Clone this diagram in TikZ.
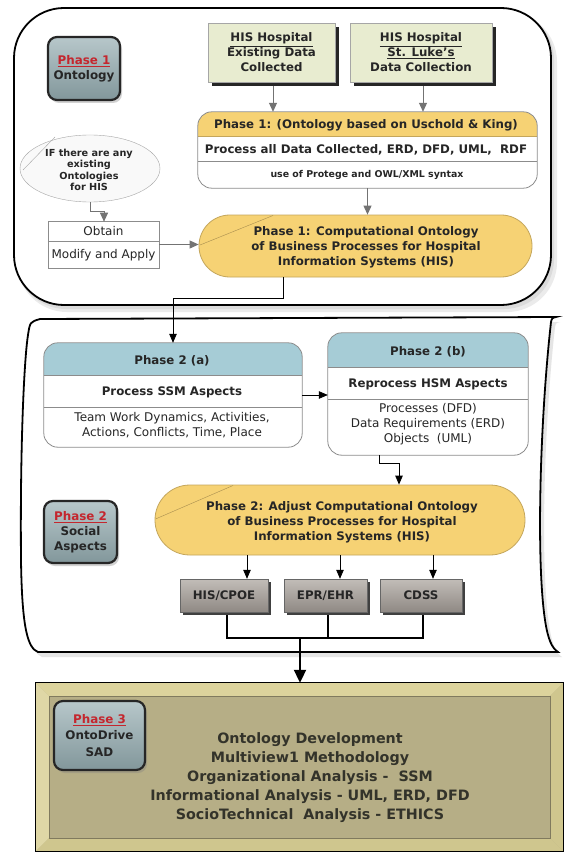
\documentclass[tikz,border=0pt]{standalone}
\usepackage{fontspec}
\setmainfont{DejaVu Sans}
\usetikzlibrary{arrows.meta,shadows,shapes.geometric}
\definecolor{yel}{HTML}{F6D274}
\definecolor{yelb}{HTML}{C4A65C}
\definecolor{tealh}{HTML}{A6CCD6}
\definecolor{his}{HTML}{E8ECD0}
\definecolor{boxb}{HTML}{8C8C8C}
\definecolor{txt}{HTML}{262626}
\definecolor{redp}{HTML}{C4262E}
\definecolor{badged}{HTML}{82979B}
\definecolor{badgel}{HTML}{B7C7CA}
\definecolor{olive}{HTML}{B6AE86}
\definecolor{olivel}{HTML}{DCD39C}
\definecolor{olivem}{HTML}{CFC68E}
\definecolor{garr}{HTML}{737373}
\definecolor{sboxl}{HTML}{C2BDB8}
\definecolor{sboxd}{HTML}{8F8984}
\definecolor{ptxt}{HTML}{33332A}
\tikzset{
  bt/.style={font=\fontsize{11.8}{14.8}\selectfont\bfseries, text=txt, align=center, inner sep=0pt},
  rt/.style={font=\fontsize{12}{15}\selectfont, text=txt, align=center, inner sep=0pt},
  garrow/.style={draw=garr, line width=0.9pt, -{Triangle[length=9pt,width=8pt]}},
  barrow/.style={draw=black, line width=0.8pt, -{Triangle[length=9pt,width=7.5pt]}},
  bigarrow/.style={draw=black, line width=2pt, -{Triangle[length=13pt,width=12pt]}},
  badgebox/.style={rectangle, rounded corners=9pt, draw=black!85, line width=2.2pt,
    top color=badgel, bottom color=badged,
    drop shadow={opacity=0.35, shadow xshift=2pt, shadow yshift=-3pt},
    align=center, inner sep=0pt, font=\fontsize{11.9}{15}\selectfont\bfseries, text=txt},
  hisbox/.style={rectangle, draw=gray!70, fill=his,
    drop shadow={fill=black!85, opacity=1, shadow xshift=4pt, shadow yshift=-4pt},
    align=center, inner sep=0pt, font=\fontsize{11.8}{15}\selectfont\bfseries, text=txt},
  tbox/.style={rectangle, fill=white, inner sep=0pt},
  stadium/.style={rectangle, draw=yelb, fill=yel, line width=0.8pt, inner sep=0pt},
  sbox/.style={rectangle, draw=black!60, top color=sboxl, bottom color=sboxd,
    drop shadow={fill=black!75, opacity=1, shadow xshift=2.5pt, shadow yshift=-3pt},
    font=\fontsize{11.8}{14}\selectfont\bfseries, text=txt, inner sep=0pt},
}
\begin{document}
\begin{tikzpicture}[x=1pt,y=-1pt]
\useasboundingbox (0,0) rectangle (569,853);
\fill[white] (0,0) rectangle (569,853);

% ---------- Phase 1 frame ----------
\fill[black!8, rounded corners=50pt] (17,12) rectangle (557,312);
\fill[black!14, rounded corners=50pt] (16,10) rectangle (554,309);
\draw[line width=1.8pt, fill=white, rounded corners=50pt] (14,8) rectangle (551,305);

\node[badgebox, minimum width=72pt, minimum height=63pt] (b1) at (84,68.5)
  {{\color{redp}\underline{Phase 1}}\\Ontology};

\node[hisbox, minimum width=127pt, minimum height=59pt] (his1) at (271.5,52.5)
  {\underline{HIS Hospital}\\Existing Data\\Collected};
\node[hisbox, minimum width=142pt, minimum height=59pt] (his2) at (421,52.5)
  {\underline{HIS Hospital}\\\underline{St. Luke's}\\Data Collection};

% Phase 1 process box
\node[tbox, minimum width=339pt, minimum height=76pt] (p1box) at (367.5,150) {};
\begin{scope}
  \clip[rounded corners=14pt] (p1box.north west) rectangle (p1box.south east);
  \fill[yel] (p1box.north west) rectangle ([yshift=-25pt]p1box.north east);
\end{scope}
\draw[yelb, line width=0.7pt] ([yshift=-25pt]p1box.north west) -- ([yshift=-25pt]p1box.north east);
\draw[boxb, line width=0.7pt] ([yshift=-50pt]p1box.north west) -- ([yshift=-50pt]p1box.north east);
\draw[boxb, line width=0.8pt, rounded corners=14pt] (p1box.north west) rectangle (p1box.south east);
\node[bt] (p1h) at (366,125) {Phase 1: (Ontology based on Uschold \& King)};
\node[bt] (p1r) at (366,149.5) {Process all Data Collected, ERD, DFD, UML, \ RDF};
\node[bt, font=\fontsize{9.4}{11}\selectfont\bfseries] (p1u) at (367,175) {use of Protege and OWL/XML syntax};

% IF ellipse
\node[ellipse, draw=gray!70, fill=gray!5, minimum width=140pt, minimum height=67pt, inner sep=0pt] (ifell) at (90,168.5) {};
\draw[gray!70] (23,170) -- (55,137);
\node[font=\fontsize{9.7}{11.4}\selectfont\bfseries, text=txt, align=center, inner sep=0pt] (ift) at (89,170)
  {IF there are any\\existing\\Ontologies\\for HIS};

% Obtain box
\node[draw=boxb, fill=white, minimum width=111pt, minimum height=47pt, inner sep=0pt] (obtain) at (103.5,244.5) {};
\draw[boxb] (obtain.west |- 0,241) -- (obtain.east |- 0,241);
\node[rt] (obt1) at (103.5,231.5) {Obtain};
\node[rt] (obt2) at (103.5,255) {Modify and Apply};

% Computational ontology stadium
\node[stadium, rounded corners=30.9pt, minimum width=333pt, minimum height=62pt] (comp) at (365.5,246) {};
\draw[yelb!85!black] (200,245) -- (273,215.5);
\node[bt] (compt) at (366,247.5) {Phase 1: Computational Ontology\\of Business Processes for Hospital\\Information Systems (HIS)};

% ---------- Phase 2 frame ----------
\begin{scope}[shift={(4,5)}]
\fill[black!10] (40,319) -- (556,317) .. controls (552,318) .. (551,322)
  .. controls (540,420) and (536,560) .. (545,620)
  .. controls (548,640) and (552,648) .. (558,652) -- (38,652)
  .. controls (28,648) and (22,630) .. (21,560)
  .. controls (20,450) and (24,360) .. (28,335)
  .. controls (30,322) .. (40,319) -- cycle;
\end{scope}
\draw[line width=1.8pt, fill=white] (40,319) -- (556,317) .. controls (552,318) .. (551,322)
  .. controls (540,420) and (536,560) .. (545,620)
  .. controls (548,640) and (552,648) .. (558,652) -- (38,652)
  .. controls (28,648) and (22,630) .. (21,560)
  .. controls (20,450) and (24,360) .. (28,335)
  .. controls (30,322) .. (40,319) -- cycle;

% Phase 2 (a)
\node[tbox, minimum width=258pt, minimum height=104pt] (p2a) at (173,395) {};
\begin{scope}
  \clip[rounded corners=14pt] (p2a.north west) rectangle (p2a.south east);
  \fill[tealh] (p2a.north west) rectangle ([yshift=-33pt]p2a.north east);
\end{scope}
\draw[boxb, line width=0.7pt] ([yshift=-33pt]p2a.north west) -- ([yshift=-33pt]p2a.north east);
\draw[boxb, line width=0.7pt] ([yshift=-65pt]p2a.north west) -- ([yshift=-65pt]p2a.north east);
\draw[boxb, line width=0.8pt, rounded corners=14pt] (p2a.north west) rectangle (p2a.south east);
\node[bt] (p2ah) at (172,360.5) {Phase 2 (a)};
\node[bt] (p2ar) at (172,392) {Process SSM Aspects};
\node[rt] (p2at) at (172,425) {Team Work Dynamics, Activities,\\Actions, Conflicts, Time, Place};

% Phase 2 (b)
\node[tbox, minimum width=200pt, minimum height=122pt] (p2b) at (428,394) {};
\begin{scope}
  \clip[rounded corners=14pt] (p2b.north west) rectangle (p2b.south east);
  \fill[tealh] (p2b.north west) rectangle ([yshift=-35pt]p2b.north east);
\end{scope}
\draw[boxb, line width=0.7pt] ([yshift=-35pt]p2b.north west) -- ([yshift=-35pt]p2b.north east);
\draw[boxb, line width=0.7pt] ([yshift=-67pt]p2b.north west) -- ([yshift=-67pt]p2b.north east);
\draw[boxb, line width=0.8pt, rounded corners=14pt] (p2b.north west) rectangle (p2b.south east);
\node[bt] (p2bh) at (428,352) {Phase 2 (b)};
\node[bt] (p2br) at (428,384.5) {Reprocess HSM Aspects};
\node[rt] (p2bt) at (428,424.5) {Processes (DFD)\\Data Requirements (ERD)\\Objects \ (UML)};

% Phase 2 stadium
\node[stadium, rounded corners=34.9pt, minimum width=370pt, minimum height=70pt] (p2ell) at (340,520) {};
\draw[yelb!85!black] (155.5,519) -- (233,485.5);
\node[bt, font=\fontsize{11.8}{15}\selectfont\bfseries] (p2t) at (342,522) {Phase 2: Adjust Computational Ontology\\of Business Processes for Hospital\\Information Systems (HIS)};

\node[badgebox, minimum width=73pt, minimum height=62pt] (b2) at (80.5,532)
  {{\color{redp}\underline{Phase 2}}\\Social\\Aspects};

% system boxes
\node[sbox, minimum width=88pt, minimum height=33pt] (hiscpoe) at (224,595.5) {HIS/CPOE};
\node[sbox, minimum width=83pt, minimum height=33pt] (eprehr) at (325.5,595.5) {EPR/EHR};
\node[sbox, minimum width=82pt, minimum height=33pt] (cdss) at (421,595.5) {CDSS};

% ---------- Phase 3 ----------
\node[fill=olive, minimum width=527pt, minimum height=168pt, inner sep=0pt] (p3) at (299.5,767) {};
\fill[olivel] (36,683) -- (563,683) -- (550,696) -- (49,696) -- cycle;
\fill[olivel!90!white] (36,683) -- (49,696) -- (49,838) -- (36,851) -- cycle;
\fill[olivem] (563,683) -- (563,851) -- (550,838) -- (550,696) -- cycle;
\fill[olivem] (36,851) -- (563,851) -- (550,838) -- (49,838) -- cycle;
\draw[olive!70!black, line width=0.4pt] (49,696) rectangle (550,838);
\draw[black, line width=1.2pt] (p3.north west) rectangle (p3.south east);
\node[badgebox, minimum width=91pt, minimum height=69pt, font=\fontsize{11.9}{16.5}\selectfont\bfseries] (b3) at (99.5,735.5)
  {{\color{redp}\underline{Phase 3}}\\OntoDrive\\SAD};
\node[font=\fontsize{14.3}{19}\selectfont\bfseries, text=ptxt, align=center, inner sep=0pt] (p3t) at (310,778)
  {Ontology Development\\Multiview1 Methodology\\Organizational Analysis - \ SSM\\Informational Analysis - UML, ERD, DFD\\SocioTechnical \ Analysis - ETHICS};

% ---------- connectors ----------
\draw[garrow] ([xshift=1.5pt,yshift=-4pt]his1.south) -- ([xshift=1.5pt]his1.south |- p1box.north);
\draw[garrow] ([xshift=2pt,yshift=-4pt]his2.south) -- ([xshift=2pt]his2.south |- p1box.north);
\draw[garrow] (p1box.south) -- (p1box.south |- comp.north);
\draw[garrow] (ifell.south) |- ++(14,9) -- ++(0,10.5);
\draw[garrow] (obtain.east) -- (obtain.east -| comp.west);
\draw[barrow] ([xshift=-82.5pt]comp.south) -- ++(0,21) -| (p2a.north);
\draw[barrow] (p2a.east) -- (p2a.east -| p2b.west);
\draw[barrow] ([xshift=-49pt]p2b.south) -- ++(0,8) -| ([xshift=59pt]p2ell.north);
\draw[barrow] ([xshift=23pt]hiscpoe.north |- p2ell.south) -- ([xshift=23pt]hiscpoe.north);
\draw[barrow] ([xshift=14.5pt]eprehr.north |- p2ell.south) -- ([xshift=14.5pt]eprehr.north);
\draw[barrow] ([xshift=12pt]cdss.north |- p2ell.south) -- ([xshift=12pt]cdss.north);
\coordinate (join) at (300,638);
\draw[line width=1.2pt] ([xshift=3pt,yshift=-3pt]hiscpoe.south) |- (join);
\draw[line width=1.2pt] ([xshift=2pt,yshift=-3pt]cdss.south) |- (join);
\draw[line width=1.2pt] ([xshift=2.5pt,yshift=-3pt]eprehr.south) -- ([xshift=2.5pt]eprehr.south |- join);
\draw[bigarrow] (join) -- (join |- p3.north);
\end{tikzpicture}
\end{document}
